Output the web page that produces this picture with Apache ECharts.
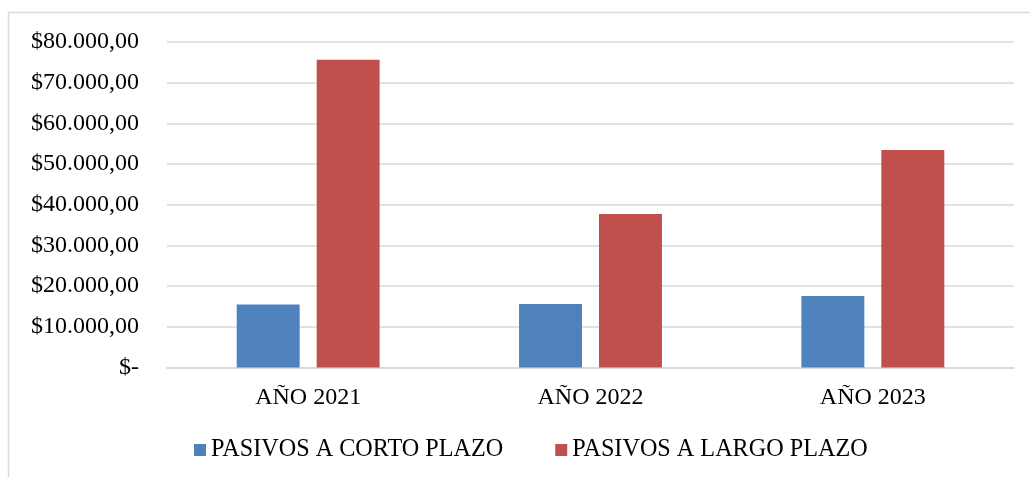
<!DOCTYPE html>
<html>
<head>
<meta charset="utf-8">
<script src="https://cdn.jsdelivr.net/npm/echarts@6/dist/echarts.min.js"></script>
<style>
html,body{margin:0;padding:0;background:#fff;}
#c{width:1030px;height:477px;}
</style>
</head>
<body>
<div id="c"></div>
<script>
var categories = ['AÑO 2021', 'AÑO 2022', 'AÑO 2023'];
var seriesNames = ['PASIVOS A CORTO PLAZO', 'PASIVOS A LARGO PLAZO'];
var cortoPlazo = [15500, 15600, 17570];
var largoPlazo = [75650, 37720, 53450];
var yTicks = [0, 10000, 20000, 30000, 40000, 50000, 60000, 70000, 80000];

var FONT = '"Liberation Serif", "Times New Roman", serif';

function fmt(v) {
  if (v === 0) return '$-';
  var s = String(Math.round(v));
  var out = '';
  while (s.length > 3) { out = '.' + s.slice(-3) + out; s = s.slice(0, -3); }
  return '$' + s + out + ',00';
}

var chart = echarts.init(document.getElementById('c'), null, {renderer: 'canvas'});
chart.setOption({
  animation: false,
  backgroundColor: '#ffffff',
  graphic: [
    {type: 'line', shape: {x1: 8, y1: 12.5, x2: 1030, y2: 12.5}, style: {stroke: '#d9d9d9', lineWidth: 1.5}},
    {type: 'line', shape: {x1: 8.5, y1: 12, x2: 8.5, y2: 477}, style: {stroke: '#d9d9d9', lineWidth: 1.5}}
  ],
  grid: {left: 167, right: 16, top: 42, bottom: 109.5, containLabel: false},
  legend: {
    data: seriesNames,
    top: 433,
    left: 189,
    itemWidth: 12,
    itemHeight: 12,
    itemGap: 52,
    icon: 'rect',
    textStyle: {fontFamily: FONT, fontSize: 24.2, color: '#000'}
  },
  xAxis: {
    type: 'category',
    data: categories,
    axisLine: {lineStyle: {color: '#d9d9d9', width: 1.5}},
    axisTick: {show: false},
    axisLabel: {fontFamily: FONT, fontSize: 24, color: '#000', margin: 18}
  },
  yAxis: {
    type: 'value',
    min: yTicks[0],
    max: yTicks[yTicks.length - 1],
    interval: 10000,
    axisLine: {show: false},
    axisTick: {show: false},
    splitLine: {lineStyle: {color: '#d9d9d9', width: 1.5}},
    axisLabel: {fontFamily: FONT, fontSize: 24, color: '#000', margin: 28, formatter: fmt}
  },
  series: [
    {name: seriesNames[0], type: 'bar', data: cortoPlazo, barWidth: '22.3%', barGap: '27%',
     itemStyle: {color: '#4F81BD'}},
    {name: seriesNames[1], type: 'bar', data: largoPlazo, barWidth: '22.3%', barGap: '27%',
     itemStyle: {color: '#C0504D'}}
  ]
});
</script>
</body>
</html>
